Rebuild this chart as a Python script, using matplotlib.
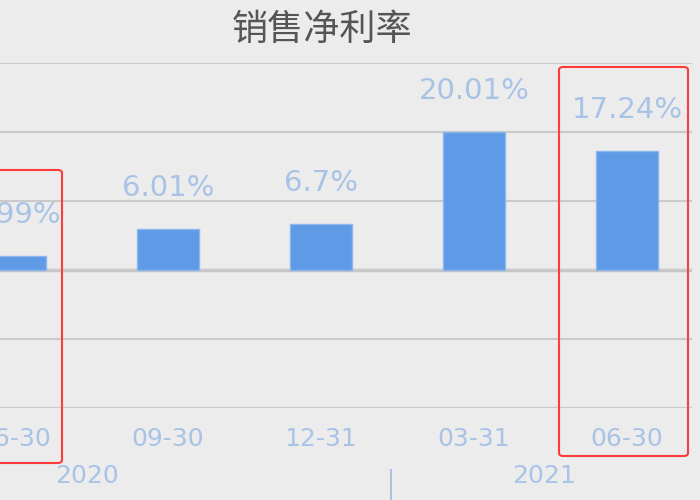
import matplotlib
matplotlib.use("Agg")
import matplotlib.pyplot as plt
from matplotlib.patches import FancyBboxPatch
import matplotlib.transforms as mtransforms

# data
quarters = ["06-30", "09-30", "12-31", "03-31", "06-30"]
margin = [1.99, 6.01, 6.7, 20.01, 17.24]
value_labels = ["1.99%", "6.01%", "6.7%", "20.01%", "17.24%"]
years = ["2020", "2021"]
year_pos = [0.47, 3.46]
year_split = 2.46

bg = "#ececec"
bar_color = "#5e9ae6"
label_color = "#a9c3e6"
grid_color = "#cacaca"

fig = plt.figure(figsize=(7, 5), dpi=100, facecolor=bg)
ax = fig.add_axes([0, 0.184, 692 / 700, 0.69])
ax.set_facecolor(bg)

x = list(range(len(margin)))
ax.bar(x, margin, width=0.4, color=bar_color, edgecolor="#8db6ec", linewidth=1, zorder=3)

ax.set_xlim(-15 / 153, 677 / 153)
ax.set_ylim(-20, 30)
ax.set_yticks([-20, -10, 0, 10, 20, 30])
ax.yaxis.grid(True, color=grid_color, linewidth=1.5, zorder=0)
ax.axhline(0, color="#c4c4c4", linewidth=2.5, zorder=1)
ax.axhline(-20, color="#c4c4c4", linewidth=2.2, zorder=1)
ax.tick_params(axis="y", left=False, labelleft=False)
for s in ax.spines.values():
    s.set_visible(False)

ax.set_xticks(x)
ax.set_xticklabels(quarters, color=label_color, fontsize=18)
ax.tick_params(axis="x", length=0, pad=14)

for xi, v, lab in zip(x, margin, value_labels):
    ax.annotate(lab, (xi, v), xytext=(0, 29.5), textcoords="offset points",
                ha="center", va="center", color=label_color, fontsize=21)

trans = mtransforms.blended_transform_factory(ax.transData, ax.transAxes)
for yp, yl in zip(year_pos, years):
    ax.text(yp, -0.197, yl, transform=trans, ha="center", va="center",
            color=label_color, fontsize=18, clip_on=False)
ax.plot([year_split, year_split], [-0.18, -0.27], transform=trans,
        color=label_color, linewidth=1.5, clip_on=False)

fig.text(322 / 700, 0.94, "销售净利率", family=["Noto Sans CJK SC", "DejaVu Sans"],
         fontsize=26, color="#555555", ha="center", va="center")

# red highlight boxes (figure pixel coordinates)
boxes = [(-10, 37, 72, 293), (559, 44, 129, 389)]
for bx, by, bw, bh in boxes:
    fig.patches.append(FancyBboxPatch((bx / 700, by / 500), bw / 700, bh / 500,
                                      boxstyle="round,pad=0,rounding_size=0.006",
                                      transform=fig.transFigure, fill=False,
                                      edgecolor="#ff3b3b", linewidth=1.5))

fig.savefig("out.png", dpi=100, facecolor=bg)
